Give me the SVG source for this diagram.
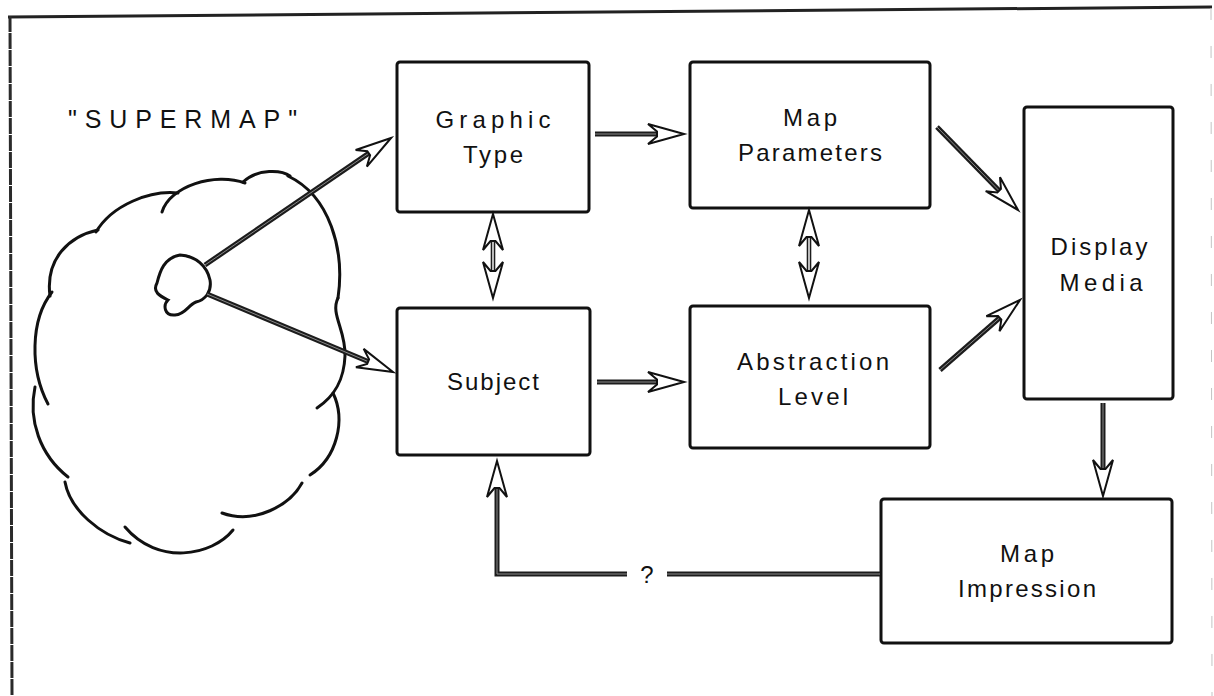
<svg xmlns="http://www.w3.org/2000/svg" xmlns:xlink="http://www.w3.org/1999/xlink" width="1214" height="696" viewBox="0 0 1214 696">
  <style>
    .box { fill: #ffffff; stroke: #111111; stroke-width: 3; }
    .lbl { font-family: "Liberation Sans", Arial, sans-serif; font-size: 24px; fill: #111111; text-anchor: middle; }
    .title { font-family: "Liberation Sans", Arial, sans-serif; font-size: 25px; fill: #111111; }
    .shaft { stroke: #1c1c1c; stroke-width: 5; fill: none; stroke-linecap: butt; }
    .core { stroke: #8a8a8a; stroke-width: 1; fill: none; }
    .thin { stroke: #1c1c1c; stroke-width: 1.6; fill: none; }
    .head { fill: #ffffff; stroke: #111111; stroke-width: 2; stroke-linejoin: miter; }
    .cloud { fill: none; stroke: #111111; stroke-width: 3; stroke-linecap: round; }
  </style>
  <defs>
    <!-- open barbed arrowhead, tip at origin, pointing along +x -->
    <path id="arrowhead" class="head" d="M0,0 L-36,-10 L-27,-2.5 L-27,2.5 L-36,10 Z"/>
  </defs>

  <rect width="1214" height="696" fill="#ffffff"/>

  <!-- page frame -->
  <g id="frame">
    <path d="M8,17 L1212,7" stroke="#222" stroke-width="3" fill="none"/>
    <path d="M10,16 L12,696" stroke="#2a2a2a" stroke-width="3" stroke-dasharray="16 1" fill="none"/>
    <path d="M1211,8 L1212,696" stroke="#c4c4c4" stroke-width="1" stroke-dasharray="12 26" fill="none"/>
  </g>

  <!-- the "supermap" cloud with its inner nucleus -->
  <g id="supermap">
    <text class="title" x="68" y="128" textLength="229" lengthAdjust="spacing">"SUPERMAP"</text>
    <g class="cloud">
      <path d="M50,296 C45,258 70,236 98,230"/>
      <path d="M96,232 C112,205 150,190 178,193"/>
      <path d="M162,212 C170,186 215,172 245,183"/>
      <path d="M243,182 C258,168 282,170 290,176"/>
      <path d="M288,176 C330,196 345,250 338,298"/>
      <path d="M338,298 C330,314 346,330 345,356 C344,380 335,396 317,408"/>
      <path d="M333,393 C346,420 337,458 310,475"/>
      <path d="M302,483 C290,505 255,525 222,513"/>
      <path d="M233,530 C212,556 158,566 125,527"/>
      <path d="M130,543 C100,535 70,510 65,482"/>
      <path d="M68,477 C40,455 28,420 35,387"/>
      <path d="M48,404 C30,370 30,320 52,292"/>
      <path d="M180,255 C196,256 207,266 210,280 C212,292 205,300 196,302 C188,305 186,314 175,315 C164,316 163,305 168,300 C160,296 152,292 157,283 C160,271 164,258 180,255 Z"/>
    </g>
  </g>

  <!-- process boxes -->
  <g id="graphic-type">
    <rect class="box" x="397" y="62" width="192" height="150" rx="3"/>
    <text class="lbl" x="493" y="128" textLength="115" lengthAdjust="spacing">Graphic</text>
    <text class="lbl" x="493" y="163" textLength="60" lengthAdjust="spacing">Type</text>
  </g>
  <g id="map-parameters">
    <rect class="box" x="690" y="62" width="240" height="146" rx="3"/>
    <text class="lbl" x="810" y="126" textLength="54" lengthAdjust="spacing">Map</text>
    <text class="lbl" x="810" y="161" textLength="144" lengthAdjust="spacing">Parameters</text>
  </g>
  <g id="subject">
    <rect class="box" x="397" y="308" width="193" height="147" rx="3"/>
    <text class="lbl" x="493" y="390" textLength="92" lengthAdjust="spacing">Subject</text>
  </g>
  <g id="abstraction-level">
    <rect class="box" x="690" y="306" width="240" height="142" rx="3"/>
    <text class="lbl" x="813" y="370" textLength="152" lengthAdjust="spacing">Abstraction</text>
    <text class="lbl" x="813" y="405" textLength="70" lengthAdjust="spacing">Level</text>
  </g>
  <g id="display-media">
    <rect class="box" x="1024" y="107" width="149" height="292" rx="3"/>
    <text class="lbl" x="1099" y="255" textLength="97" lengthAdjust="spacing">Display</text>
    <text class="lbl" x="1101" y="291" textLength="83" lengthAdjust="spacing">Media</text>
  </g>
  <g id="map-impression">
    <rect class="box" x="881" y="499" width="291" height="144" rx="3"/>
    <text class="lbl" x="1027" y="562" textLength="54" lengthAdjust="spacing">Map</text>
    <text class="lbl" x="1027" y="597" textLength="138" lengthAdjust="spacing">Impression</text>
  </g>

  <!-- connectors -->
  <g id="connectors">
    <!-- nucleus to graphic type -->
    <path class="shaft" d="M205,265 L370.4,152.1"/>
    <path class="core" d="M205,265 L370.4,152.1"/>
    <use href="#arrowhead" transform="translate(391,138) rotate(-34.3)"/>
    <!-- nucleus to subject -->
    <path class="shaft" d="M207,294 L369.9,362.3"/>
    <path class="core" d="M207,294 L369.9,362.3"/>
    <use href="#arrowhead" transform="translate(393,372) rotate(22.75)"/>
    <!-- graphic type to map parameters -->
    <path class="shaft" d="M595,134 L659,134"/>
    <path class="core" d="M595,134 L659,134"/>
    <use href="#arrowhead" transform="translate(684,134)"/>
    <!-- subject to abstraction level -->
    <path class="shaft" d="M597,382 L659,382"/>
    <path class="core" d="M597,382 L659,382"/>
    <use href="#arrowhead" transform="translate(684,382)"/>
    <!-- map parameters to display media -->
    <path class="shaft" d="M937,127 L1000.5,192.1"/>
    <path class="core" d="M937,127 L1000.5,192.1"/>
    <use href="#arrowhead" transform="translate(1018,210) rotate(45.7)"/>
    <!-- abstraction level to display media -->
    <path class="shaft" d="M940,370 L1001.2,316.5"/>
    <path class="core" d="M940,370 L1001.2,316.5"/>
    <use href="#arrowhead" transform="translate(1020,300) rotate(-41.2)"/>
    <!-- display media to map impression -->
    <path class="shaft" d="M1103,403 L1103,471"/>
    <path class="core" d="M1103,403 L1103,471"/>
    <use href="#arrowhead" transform="translate(1103,496) rotate(90)"/>
    <!-- feedback from map impression to subject -->
    <path class="shaft" d="M880,574 L667,574"/>
    <path class="core" d="M880,574 L667,574"/>
    <path class="shaft" d="M627,574 L497,574 L497,486"/>
    <path class="core" d="M627,574 L497,574 L497,486"/>
    <use href="#arrowhead" transform="translate(497,461) rotate(-90)"/>
    <text class="lbl" x="647" y="583">?</text>
    <!-- graphic type <-> subject -->
    <path class="thin" d="M491.5,236 L491.5,276 M494.5,236 L494.5,276"/>
    <use href="#arrowhead" transform="translate(493,214) rotate(-90)"/>
    <use href="#arrowhead" transform="translate(493,298) rotate(90)"/>
    <!-- map parameters <-> abstraction level -->
    <path class="thin" d="M807.5,232 L807.5,276 M810.5,232 L810.5,276"/>
    <use href="#arrowhead" transform="translate(809,210) rotate(-90)"/>
    <use href="#arrowhead" transform="translate(809,298) rotate(90)"/>
  </g>
</svg>
